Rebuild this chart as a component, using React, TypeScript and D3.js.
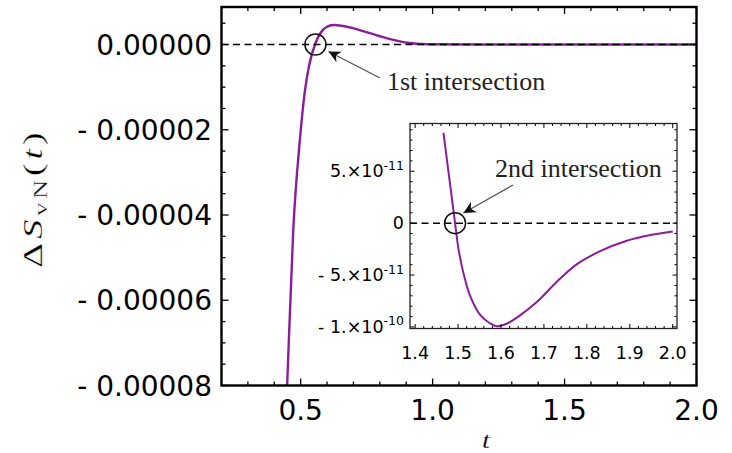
import React from 'react';
import * as d3 from 'd3';

// main curve, values in units of 1e-5
const mainT = [0.44, 0.449, 0.472, 0.497, 0.515, 0.531, 0.556, 0.575, 0.598, 0.624, 0.701, 0.765, 0.828, 0.904, 0.98, 1.2, 1.6, 2.0];
const mainV = [-9.4, -7.97, -4.34, -2.24, -1.14, -0.52, 0.03, 0.27, 0.41, 0.457, 0.38, 0.26, 0.145, 0.04, 0.005, 0, 0, 0];

// inset curve, values in units of 1e-11
const insetT = [1.466, 1.493, 1.501, 1.513, 1.528, 1.552, 1.575, 1.59, 1.614, 1.645, 1.684, 1.73, 1.777, 1.831, 1.893, 1.948, 2.0];
const insetV = [8.7, 0, -2.5, -4.9, -7.0, -8.86, -9.67, -9.93, -9.67, -8.86, -7.58, -5.65, -3.95, -2.7, -1.7, -1.15, -0.8];

const xMajor = [0.5, 1.0, 1.5, 2.0];
const xMajorLabels = ['0.5', '1.0', '1.5', '2.0'];
const yMajor = [0, -2e-5, -4e-5, -6e-5, -8e-5];
const yMajorLabels = ['0.00000', '- 0.00002', '- 0.00004', '- 0.00006', '- 0.00008'];

const ixMajor = [1.4, 1.5, 1.6, 1.7, 1.8, 1.9, 2.0];
const ixLabels = ['1.4', '1.5', '1.6', '1.7', '1.8', '1.9', '2.0'];
const iyMajor = [5e-11, 0, -5e-11, -1e-10];
const iyBase = ['5.×10', '0', '- 5.×10', '- 1.×10'];
const iyExp = ['-11', '', '-11', '-10'];

const PURPLE = '#8b1c9c';

const App = () => {
    // main plot frame
    const left = 221.5, right = 696.5, top = 7, bottom = 385.5;
    const x = d3.scaleLinear().domain([0.2, 2.0]).range([left, right]);
    const y = d3.scaleLinear().domain([-8e-5, 0.88e-5]).range([bottom, top]);

    // inset frame
    const il = 410, ir = 677, it = 123.5, ib = 328.5;
    const ix = d3.scaleLinear().domain([1.388, 2.01]).range([il, ir]);
    const iy = d3.scaleLinear().domain([-1.015e-10, 0.96e-10]).range([ib, it]);

    const xMinor = d3.range(3, 21).map((d) => d / 10);
    const yMinor = d3.range(-16, 2).map((d) => d * 0.5e-5);
    const ixMinor = d3.range(70, 101).map((d) => d / 50);
    const iyMinor = d3.range(-10, 10).map((d) => d * 1e-11);

    const mainLine = d3
        .line<number>()
        .x((d, i) => x(mainT[i]))
        .y((d) => y(d * 1e-5))
        .curve(d3.curveMonotoneX);
    const insetLine = d3
        .line<number>()
        .x((d, i) => ix(insetT[i]))
        .y((d) => iy(d * 1e-11))
        .curve(d3.curveCatmullRom.alpha(0.5));

    const sans = 'DejaVu Sans, Verdana, sans-serif';
    const serif = 'Liberation Serif, Times New Roman, serif';

    return (
        <svg width={732} height={453} style={{ position: 'absolute', left: 0, top: 0, background: '#fff' }}>
            <defs>
                <clipPath id="mainClip">
                    <rect x={left} y={top} width={right - left} height={bottom - top} />
                </clipPath>
                <clipPath id="insetClip">
                    <rect x={il} y={it} width={ir - il} height={ib - it} />
                </clipPath>
                <marker id="arrow" viewBox="0 0 10 10" refX="10" refY="5" markerWidth="16" markerHeight="12" markerUnits="userSpaceOnUse" orient="auto">
                    <path d="M0,0 L10,5 L0,10 L3,5 Z" fill="#111" />
                </marker>
            </defs>

            {/* main curve + zero line */}
            <path d={mainLine(mainV) || ''} fill="none" stroke={PURPLE} strokeWidth={2.4} clipPath="url(#mainClip)" />
            <line x1={left} x2={right} y1={y(0)} y2={y(0)} stroke="#000" strokeWidth={1.5} strokeDasharray="7,4.5" />

            {/* main ticks */}
            {xMinor.map((d) => {
                const major = xMajor.some((m) => Math.abs(m - d) < 1e-9);
                const len = major ? 7 : 4;
                return (
                    <g key={'xt' + d}>
                        <line x1={x(d)} x2={x(d)} y1={bottom} y2={bottom - len} stroke="#000" strokeWidth={1.3} />
                        <line x1={x(d)} x2={x(d)} y1={top} y2={top + len} stroke="#000" strokeWidth={1.3} />
                    </g>
                );
            })}
            {yMinor.map((d) => {
                const major = yMajor.some((m) => Math.abs(m - d) < 1e-12);
                const len = major ? 7 : 4;
                return (
                    <g key={'yt' + d}>
                        <line x1={left} x2={left + len} y1={y(d)} y2={y(d)} stroke="#000" strokeWidth={1.3} />
                        <line x1={right} x2={right - len} y1={y(d)} y2={y(d)} stroke="#000" strokeWidth={1.3} />
                    </g>
                );
            })}
            <rect x={left} y={top} width={right - left} height={bottom - top} fill="none" stroke="#000" strokeWidth={2.4} />

            {/* main tick labels */}
            {xMajor.map((d, i) => (
                <text key={'xl' + d} x={x(d)} y={420} textAnchor="middle" fontFamily={sans} fontSize={28} fill="#000">
                    {xMajorLabels[i]}
                </text>
            ))}
            {yMajor.map((d, i) => (
                <text key={'yl' + d} x={212} y={y(d) + 10} textAnchor="end" fontFamily={sans} fontSize={28} fill="#000" style={{ whiteSpace: 'pre' }}>
                    {yMajorLabels[i]}
                </text>
            ))}

            {/* axis titles */}
            <text transform="translate(486,448) scale(1.3,1)" textAnchor="middle" fontFamily={serif} fontStyle="italic" fontSize={24} fill="#000" stroke="#fff" strokeWidth={0.25}>
                t
            </text>
            <text
                transform="translate(42,200) rotate(-90) scale(1.4,1)"
                textAnchor="middle"
                fontFamily={serif}
                fontSize={28}
                fill="#000"
                stroke="#fff"
                strokeWidth={0.3}
                textLength={97}
                lengthAdjust="spacing"
            >
                <tspan>Δ</tspan>
                <tspan fontStyle="italic">S</tspan>
                <tspan fontSize={19} dy={5}>vN</tspan>
                <tspan dy={-5}>(</tspan>
                <tspan fontStyle="italic">t</tspan>
                <tspan>)</tspan>
            </text>

            {/* 1st intersection annotation */}
            <circle cx={x(0.556)} cy={y(0)} r={10.5} fill="none" stroke="#111" strokeWidth={1.5} />
            <line x1={380} y1={78} x2={328.5} y2={51.5} stroke="#555" strokeWidth={1.3} markerEnd="url(#arrow)" />
            <text x={387} y={90} fontFamily={serif} fontSize={26} fill="#222">
                1st intersection
            </text>

            {/* inset */}
            <rect x={il} y={it} width={ir - il} height={ib - it} fill="#fff" />
            <path d={insetLine(insetV) || ''} fill="none" stroke={PURPLE} strokeWidth={2} clipPath="url(#insetClip)" />
            <line x1={il} x2={ir} y1={iy(0)} y2={iy(0)} stroke="#000" strokeWidth={1.5} strokeDasharray="7,4.5" />
            {ixMinor.map((d) => {
                const major = ixMajor.some((m) => Math.abs(m - d) < 1e-9);
                const len = major ? 4.5 : 2.5;
                return (
                    <g key={'ixt' + d}>
                        <line x1={ix(d)} x2={ix(d)} y1={ib} y2={ib - len} stroke="#000" strokeWidth={1} />
                        <line x1={ix(d)} x2={ix(d)} y1={it} y2={it + len} stroke="#000" strokeWidth={1} />
                    </g>
                );
            })}
            {iyMinor.map((d) => {
                const major = iyMajor.some((m) => Math.abs(m - d) < 1e-15);
                const len = major ? 4.5 : 2.5;
                return (
                    <g key={'iyt' + d}>
                        <line x1={il} x2={il + len} y1={iy(d)} y2={iy(d)} stroke="#000" strokeWidth={1} />
                        <line x1={ir} x2={ir - len} y1={iy(d)} y2={iy(d)} stroke="#000" strokeWidth={1} />
                    </g>
                );
            })}
            <rect x={il} y={it} width={ir - il} height={ib - it} fill="none" stroke="#222" strokeWidth={1.3} />
            {ixMajor.map((d, i) => (
                <text key={'ixl' + d} x={ix(d)} y={358.5} textAnchor="middle" fontFamily={sans} fontSize={17.5} fill="#000">
                    {ixLabels[i]}
                </text>
            ))}
            {iyMajor.map((d, i) => (
                <text key={'iyl' + d} x={404} y={iy(d) + 6} textAnchor="end" fontFamily={sans} fontSize={17.5} fill="#000" style={{ whiteSpace: 'pre' }}>
                    <tspan>{iyBase[i]}</tspan>
                    {iyExp[i] ? (
                        <tspan dy={-7.5} fontSize={12.5}>
                            {iyExp[i]}
                        </tspan>
                    ) : null}
                </text>
            ))}

            {/* 2nd intersection annotation */}
            <circle cx={ix(1.493)} cy={iy(0)} r={10.5} fill="none" stroke="#111" strokeWidth={1.5} />
            <line x1={513} y1={185} x2={463.5} y2={213} stroke="#555" strokeWidth={1.3} markerEnd="url(#arrow)" />
            <text x={495} y={177} fontFamily={serif} fontSize={26} fill="#222">
                2nd intersection
            </text>
        </svg>
    );
};

export default App;
